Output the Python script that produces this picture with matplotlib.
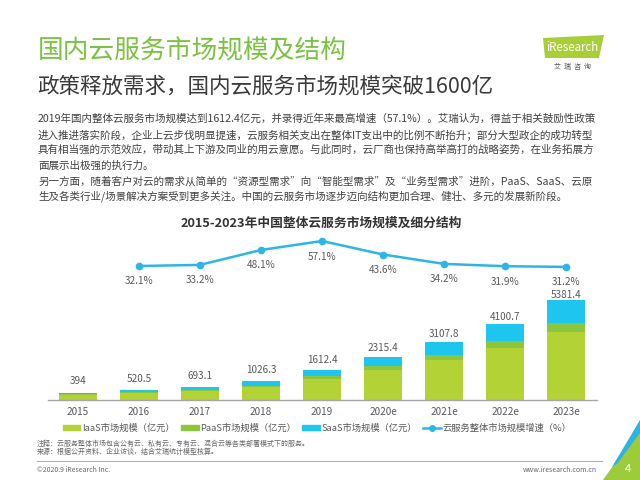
import matplotlib
matplotlib.use("Agg")
import matplotlib.pyplot as plt
import numpy as np
from matplotlib.patches import Polygon, Patch
from matplotlib.lines import Line2D

plt.rcParams['font.family'] = ['Noto Sans CJK SC', 'DejaVu Sans']

years = ['2015', '2016', '2017', '2018', '2019', '2020e', '2021e', '2022e', '2023e']
totals = [394, 520.5, 693.1, 1026.3, 1612.4, 2315.4, 3107.8, 4100.7, 5381.4]
iaas = [284, 380, 498, 700, 1124, 1610, 2130, 2820, 3650]
paas = [20, 30, 45, 80, 152, 222, 310, 370, 520]
saas = [90, 110.5, 150.1, 246.3, 336.4, 483.4, 667.8, 910.7, 1211.4]
growth_years = ['2016', '2017', '2018', '2019', '2020e', '2021e', '2022e', '2023e']
growth = [32.1, 33.2, 48.1, 57.1, 43.6, 34.2, 31.9, 31.2]

c_iaas = '#b3d235'
c_paas = '#8cc63e'
c_saas = '#1ec6ef'
c_line = '#2db5e6'
gray = '#595959'

W, H = 640, 480
fig = plt.figure(figsize=(6.4, 4.8), dpi=100)
fig.patch.set_facecolor('white')

def fx(px):
    return px / W

def fy(py):
    return 1 - py / H

# Header
fig.text(fx(38), fy(51), '国内云服务市场规模及结构', fontsize=18.5, color='#7cc242', va='center', ha='left')
fig.text(fx(37), fy(87), '政策释放需求，国内云服务市场规模突破1600亿', fontsize=15.5, color='#3a3a3a', va='center', ha='left')

body = [
    '2019年国内整体云服务市场规模达到1612.4亿元，并录得近年来最高增速（57.1%）。艾瑞认为，得益于相关鼓励性政策',
    '进入推进落实阶段，企业上云步伐明显提速，云服务相关支出在整体IT支出中的比例不断抬升；部分大型政企的成功转型',
    '具有相当强的示范效应，带动其上下游及同业的用云意愿。与此同时，云厂商也保持高举高打的战略姿势，在业务拓展方',
    '面展示出极强的执行力。',
    '另一方面，随着客户对云的需求从简单的“资源型需求”向“智能型需求”及“业务型需求”进阶，PaaS、SaaS、云原',
    '生及各类行业/场景解决方案受到更多关注。中国的云服务市场逐步迈向结构更加合理、健壮、多元的发展新阶段。',
]
for i, line in enumerate(body):
    fig.text(fx(38), fy(119 + i * 15.5), line, fontsize=7.6, color='#404040', va='center', ha='left')

fig.text(fx(321), fy(223), '2015-2023年中国整体云服务市场规模及细分结构', fontsize=9.2, color='#333333',
         fontweight='bold', va='center', ha='center')

# Logo
logo = Polygon([[fx(543), fy(38)], [fx(604), fy(35)], [fx(599), fy(58)], [fx(545), fy(58)]],
               closed=True, transform=fig.transFigure, facecolor='#a9cf38', edgecolor='none')
fig.patches.append(logo)
fig.text(fx(572), fy(47.5), 'iResearch', fontsize=8.3, color='white', va='center', ha='center')
fig.text(fx(573), fy(67), '艾  瑞  咨  询', fontsize=5, color='#555555', va='center', ha='center')

# Main axes
ax_left, ax_right = 47.5, 596.5
ax_top, ax_bot = 235, 400
ax = fig.add_axes([fx(ax_left), fy(ax_bot), fx(ax_right - ax_left), (ax_bot - ax_top) / H])
x = np.arange(len(years))
bw = 0.62
ax.bar(x, iaas, bw, color=c_iaas, zorder=2)
ax.bar(x, paas, bw, bottom=iaas, color=c_paas, zorder=2)
bottom2 = [a + b for a, b in zip(iaas, paas)]
ax.bar(x, saas, bw, bottom=bottom2, color=c_saas, zorder=2)
ax.set_xlim(-0.5, len(years) - 0.5)
ax.set_ylim(0, 8880)
for xi, t in zip(x, totals):
    off_px = 12.5 - 1.4 * t / 1000.0
    ax.annotate(f'{t:g}', (xi, t), xytext=(0, off_px * 0.72), textcoords='offset points',
                ha='center', va='center', fontsize=7.2, color=gray)
for s in ['top', 'right', 'left']:
    ax.spines[s].set_visible(False)
ax.spines['bottom'].set_color('#a6a6a6')
ax.spines['bottom'].set_linewidth(1.0)
ax.set_yticks([])
ax.set_xticks(x)
ax.set_xticklabels(years, fontsize=7.2, color=gray)
ax.tick_params(axis='x', length=0, pad=5)

ax2 = ax.twinx()
gx = [years.index(g) for g in growth_years]
ax2.plot(gx, growth, color=c_line, lw=1.8, marker='o', ms=4.5, zorder=3)
ax2.set_ylim(-101.9, 63.1)
for xi, g in zip(gx, growth):
    ax2.annotate(f'{g:.1f}%', (xi, g), xytext=(0, -15.5 * 0.72), textcoords='offset points',
                 ha='center', va='center', fontsize=7.2, color=gray)
ax2.axis('off')

handles = [Patch(color=c_iaas), Patch(color=c_paas), Patch(color=c_saas),
           Line2D([0], [0], color=c_line, lw=1.8, marker='o', ms=4)]
labels = ['IaaS市场规模（亿元）', 'PaaS市场规模（亿元）', 'SaaS市场规模（亿元）', '云服务整体市场规模增速（%）']
leg = fig.legend(handles, labels, loc='center', bbox_to_anchor=(fx(317), fy(428)), ncol=4,
                 frameon=False, fontsize=6.7, handlelength=1.9, handleheight=0.5,
                 columnspacing=0.7, handletextpad=0.15)
for t in leg.get_texts():
    t.set_color(gray)

# Notes
fig.text(fx(37), fy(444), '注释：云服务整体市场包含公有云、私有云、专有云、混合云等各类部署模式下的服务。',
         fontsize=5.0, color='#666666', va='center', ha='left')
fig.text(fx(37), fy(451.5), '来源：根据公开资料、企业访谈，结合艾瑞统计模型核算。',
         fontsize=5.0, color='#666666', va='center', ha='left')

# Footer
fig.add_artist(Line2D([fx(37), fx(602)], [fy(461), fy(461)], color='#b0b0b0', lw=0.8,
                      transform=fig.transFigure))
fig.text(fx(37), fy(470), '©2020.9 iResearch Inc.', fontsize=5.0, color='#666666', va='center', ha='left')
fig.text(fx(597), fy(470), 'www.iresearch.com.cn', fontsize=5.0, color='#666666', va='center', ha='right')

# Corner decoration
tri_g = Polygon([[fx(603), fy(480)], [fx(640), fy(428)], [fx(640), fy(480)]], closed=True,
                transform=fig.transFigure, facecolor='#9ccc3c', edgecolor='none')
tri_b = Polygon([[fx(612), fy(467)], [fx(640), fy(420)], [fx(640), fy(433)], [fx(617), fy(464)]], closed=True,
                transform=fig.transFigure, facecolor='#2fb3e3', edgecolor='none')
fig.patches.append(tri_g)
fig.patches.append(tri_b)
fig.text(fx(628), fy(469), '4', fontsize=8, color='white', va='center', ha='center')

fig.savefig('out.png', dpi=100, facecolor='white')
